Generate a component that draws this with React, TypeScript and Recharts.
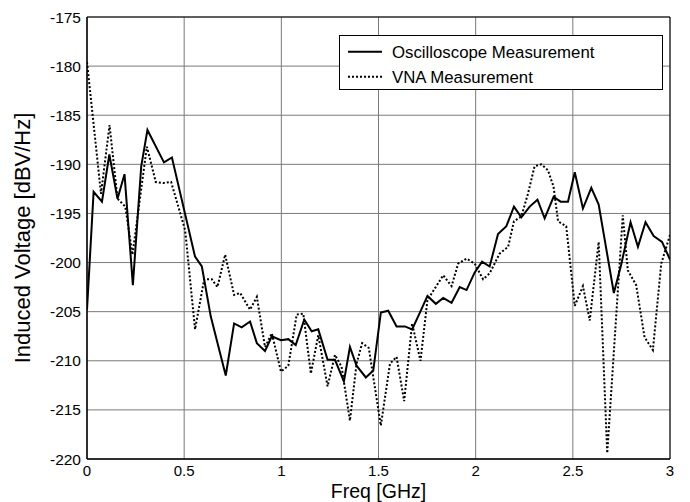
import React from 'react';
import { LineChart, Line, XAxis, YAxis, CartesianGrid, ReferenceArea } from 'recharts';

const FONT = '"Liberation Sans", Arial, Helvetica, sans-serif';

// Oscilloscope measurement (solid)
const oscFreq = [
  0, 0.034, 0.077, 0.115, 0.157, 0.193, 0.236, 0.279, 0.311, 0.396, 0.437, 0.556, 0.591, 0.637,
  0.714, 0.757, 0.796, 0.839, 0.874, 0.916, 0.951, 0.998, 1.036, 1.074, 1.118, 1.156, 1.19,
  1.238, 1.276, 1.322, 1.353, 1.387, 1.435, 1.473, 1.512, 1.55, 1.593, 1.636, 1.673, 1.713,
  1.752, 1.795, 1.833, 1.876, 1.918, 1.953, 1.995, 2.033, 2.072, 2.115, 2.158, 2.197, 2.235,
  2.278, 2.318, 2.355, 2.401, 2.437, 2.475, 2.51, 2.552, 2.595, 2.633, 2.711, 2.749, 2.797,
  2.835, 2.874, 2.916, 2.959, 3.0,
];
const oscLevel = [
  -204.8, -192.8, -193.8, -189.0, -193.5, -191.0, -202.3, -190.2, -186.5, -189.8, -189.3, -199.4,
  -200.4, -205.5, -211.5, -206.2, -206.6, -206.0, -208.2, -209.0, -207.5, -207.9, -207.8, -208.4,
  -205.8, -207.0, -206.8, -209.9, -209.9, -212.1, -208.6, -210.5, -211.7, -211.0, -205.1, -204.9,
  -206.5, -206.5, -206.8, -205.1, -203.4, -204.2, -203.6, -204.1, -202.5, -202.8, -201.0, -199.9,
  -200.4, -197.1, -196.3, -194.3, -195.4, -194.3, -193.6, -195.5, -193.3, -193.8, -193.8, -190.8,
  -194.5, -192.4, -194.1, -203.1, -200.2, -195.9, -198.4, -195.9, -197.3, -197.9, -199.7,
];

// VNA measurement (dotted)
const vnaFreq = [
  0, 0.072, 0.116, 0.157, 0.197, 0.234, 0.308, 0.354, 0.393, 0.433, 0.505, 0.556, 0.603, 0.642,
  0.671, 0.711, 0.757, 0.788, 0.839, 0.874, 0.916, 0.951, 0.998, 1.036, 1.079, 1.113, 1.152,
  1.19, 1.238, 1.276, 1.31, 1.353, 1.387, 1.416, 1.45, 1.512, 1.559, 1.593, 1.632, 1.673, 1.716,
  1.752, 1.833, 1.876, 1.91, 1.953, 1.995, 2.038, 2.072, 2.123, 2.167, 2.197, 2.235, 2.269,
  2.303, 2.338, 2.372, 2.401, 2.424, 2.466, 2.51, 2.552, 2.587, 2.633, 2.677, 2.757, 2.783,
  2.826, 2.869, 2.912, 2.955, 3.0,
];
const vnaLevel = [
  -179.6, -193.0, -186.0, -193.5, -194.3, -199.2, -188.2, -191.8, -191.9, -191.8, -196.7, -206.8,
  -201.7, -201.7, -202.5, -199.2, -203.3, -203.1, -204.8, -203.5, -208.6, -207.2, -211.1, -210.5,
  -205.3, -205.2, -211.3, -207.4, -212.6, -209.4, -210.6, -216.1, -210.3, -208.2, -208.7, -216.6,
  -210.3, -209.6, -214.1, -206.2, -210.0, -203.8, -201.3, -202.4, -200.1, -199.6, -200.1, -201.7,
  -201.1, -199.1, -198.4, -195.8, -195.3, -193.0, -190.2, -190.0, -190.6, -192.3, -195.8, -196.3,
  -204.4, -202.4, -205.9, -197.9, -219.4, -195.2, -200.8, -202.3, -207.6, -208.9, -200.1, -197.2,
];

const xTicks = [0, 0.5, 1, 1.5, 2, 2.5, 3];
const yTicks = [-220, -215, -210, -205, -200, -195, -190, -185, -180, -175];
const seriesNames = ['Oscilloscope Measurement', 'VNA Measurement'];

const oscData = oscFreq.map((f, i) => ({ f, v: oscLevel[i] }));
const vnaData = vnaFreq.map((f, i) => ({ f, v: vnaLevel[i] }));

export default function App() {
  return (
    <div style={{ position: 'relative', width: 690, height: 502, background: '#fff' }}>
      <style>{`body{margin:0;}`}</style>
      <LineChart width={690} height={502} margin={{ top: 17, right: 20, bottom: 0, left: 0 }}>
        <CartesianGrid stroke="#7a7a7a" strokeWidth={1} />
        <XAxis
          type="number"
          dataKey="f"
          domain={[0, 3]}
          ticks={xTicks}
          allowDataOverflow
          height={43}
          tickLine={false}
          tickMargin={0}
          axisLine={{ stroke: '#000' }}
          tick={{ fill: '#000', fontSize: 15, fontFamily: FONT }}
          tickFormatter={(v: number) => String(v)}
          label={{
            value: 'Freq [GHz]',
            position: 'insideBottom',
            offset: 4.5,
            fill: '#000',
            style: { fontSize: 19.5, fontFamily: FONT, fill: '#000' },
          }}
        />
        <YAxis
          type="number"
          domain={[-220, -175]}
          ticks={yTicks}
          allowDataOverflow
          width={87}
          tickLine={false}
          tickMargin={0}
          axisLine={{ stroke: '#000' }}
          tick={{ fill: '#000', fontSize: 15.5, fontFamily: FONT }}
          label={{
            value: 'Induced Voltage [dBV/Hz]',
            angle: -90,
            position: 'insideLeft',
            offset: 22,
            style: { fontSize: 22, fontFamily: FONT, fill: '#000', textAnchor: 'middle' },
          }}
        />
        <ReferenceArea x1={0} x2={3} y1={-220} y2={-175} fill="none" stroke="#000" strokeWidth={1} />
        <Line
          data={oscData}
          dataKey="v"
          type="linear"
          stroke="#000"
          strokeWidth={2}
          dot={false}
          activeDot={false}
          isAnimationActive={false}
        />
        <Line
          data={vnaData}
          dataKey="v"
          type="linear"
          stroke="#000"
          strokeWidth={2}
          strokeDasharray="2 2"
          dot={false}
          activeDot={false}
          isAnimationActive={false}
        />
      </LineChart>
      <svg
        width={324}
        height={55}
        style={{ position: 'absolute', left: 339, top: 35 }}
      >
        <rect x={0.5} y={0.5} width={323} height={54} fill="#fff" stroke="#000" strokeWidth={1} />
        <line x1={9} x2={43} y1={16.7} y2={16.7} stroke="#000" strokeWidth={2} />
        <text x={53} y={22.7} fontSize={16.8} fontFamily={FONT} fill="#000">{seriesNames[0]}</text>
        <line x1={9} x2={43} y1={41.7} y2={41.7} stroke="#000" strokeWidth={2} strokeDasharray="2 2" />
        <text x={53} y={47.7} fontSize={16.8} fontFamily={FONT} fill="#000">{seriesNames[1]}</text>
      </svg>
    </div>
  );
}
